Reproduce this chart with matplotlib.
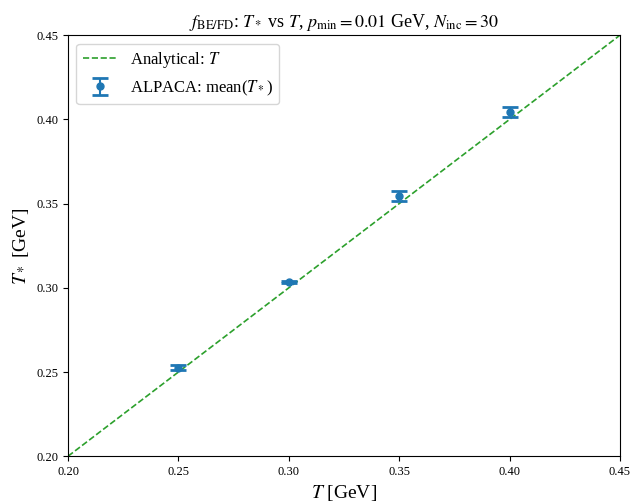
import numpy as np
import matplotlib.pyplot as plt

plt.rcParams['font.family'] = 'serif'
plt.rcParams['font.serif'] = ['Liberation Serif', 'DejaVu Serif']
plt.rcParams['mathtext.fontset'] = 'stix'

# Input temperatures and fitted mean T_* with its spread
T_true = [0.25, 0.30, 0.35, 0.40]
T_star_mean = [0.2525, 0.3035, 0.3545, 0.4045]
T_star_err = [0.0014, 0.0007, 0.0030, 0.0030]

T_line = [0.20, 0.45]

fig = plt.figure(figsize=(6.3, 5.03), dpi=100)
ax = fig.add_axes([0.108, 0.093, 0.876, 0.837])

ax.plot(T_line, T_line, '--', color='tab:green', linewidth=1.2, label='Analytical: $T$')
ax.errorbar(T_true, T_star_mean, yerr=T_star_err, fmt='o', color='tab:blue',
            markersize=5, elinewidth=1.5, capsize=6, capthick=2,
            label='ALPACA: mean($T_*$)')

ax.set_xlim(0.20, 0.45)
ax.set_ylim(0.20, 0.45)
ax.set_xticks(np.arange(0.20, 0.451, 0.05))
ax.set_yticks(np.arange(0.20, 0.451, 0.05))
ax.tick_params(labelsize=9)

ax.set_xlabel('$T$ [GeV]', fontsize=14)
ax.set_ylabel('$T_*$ [GeV]', fontsize=14)
ax.set_title(r'$f_{\rm BE/FD}$: $T_*$ vs $T$, $p_{\rm min} = 0.01$ GeV, $N_{\rm inc} = 30$',
             fontsize=13)
ax.legend(loc='upper left', fontsize=12)

fig.savefig('out.png', dpi=100)
